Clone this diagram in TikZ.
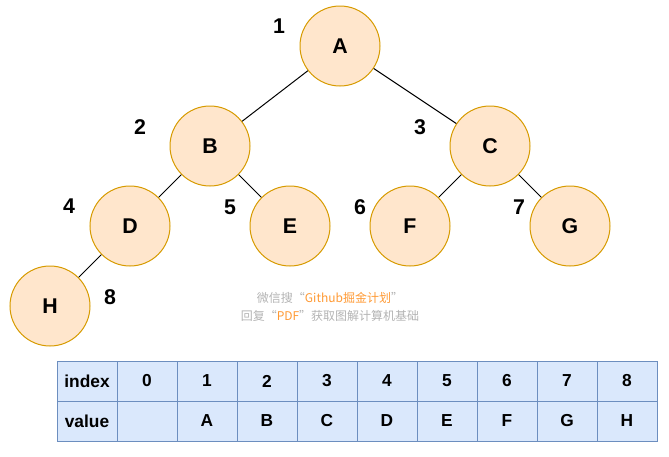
\documentclass[tikz,border=0pt]{standalone}
\usepackage{fontspec}
\setmainfont{Liberation Sans}
\newfontfamily\cjk{Noto Sans CJK SC}
\usetikzlibrary{positioning}
\definecolor{nodefill}{HTML}{FFE6CC}
\definecolor{nodeline}{HTML}{D79B00}
\definecolor{cellfill}{HTML}{DAE8FC}
\definecolor{cellline}{HTML}{6C8EBF}
\definecolor{markgray}{HTML}{B3B3B3}
\definecolor{markorange}{HTML}{FF9933}
\tikzstyle{vertex}=[circle,fill=nodefill,draw=nodeline,line width=0.75pt,minimum size=60pt,inner sep=0pt,font=\fontsize{16}{19}\selectfont\bfseries]
\tikzstyle{heapindex}=[font=\fontsize{16}{19}\selectfont\bfseries,inner sep=0pt]
\tikzstyle{edge}=[draw,line width=0.75pt]
\tikzstyle{cell}=[rectangle,fill=cellfill,draw=cellline,line width=0.75pt,minimum width=45pt,minimum height=30pt,inner sep=0pt,font=\fontsize{13}{15}\selectfont\bfseries]
\tikzstyle{watermark}=[font=\fontsize{9}{11}\selectfont\cjk,text=markgray,inner sep=0pt]

\begin{document}
\begin{tikzpicture}[x=0.75pt,y=-0.75pt]
    \useasboundingbox (0,0) rectangle (669,457);

    % First we draw the vertices of the heap
    \foreach \pos/\name in {{(340,46)/A}, {(210,146)/B}, {(490,146)/C}, {(130,226)/D}, {(290,226)/E}, {(410,226)/F}, {(570,226)/G}, {(50,306)/H}}
        \node[vertex] (\name) at \pos {\name};

    % Index of each vertex
    \foreach \pos/\name/\label in {{(279,26)/n1/1}, {(140,127)/n2/2}, {(420,127)/n3/3}, {(69,206)/n4/4}, {(230,207)/n5/5}, {(360,207)/n6/6}, {(519,207)/n7/7}, {(110,297)/n8/8}}
        \node[heapindex] (\name) at \pos {\label};

    % Connect vertices with edges
    \foreach \source/\dest in {A/B, A/C, B/D, B/E, C/F, C/G, D/H}
        \path[edge] (\source) -- (\dest);

    % watermark
    \node[watermark] (mark1) at (330,298) {微信搜“\textcolor{markorange}{Github掘金计划}”};
    \node[watermark] (mark2) at (330,316) {回复“\textcolor{markorange}{PDF}”获取图解计算机基础};

    % array of the heap
    \node[cell] (idx) at (87,381) {index};
    \node[cell] (val) at (87,421) {value};
    \foreach \i/\v in {0/{}, 1/A, 2/B, 3/C, 4/D, 5/E, 6/F, 7/G, 8/H}
    {
        \node[cell] (idx\i) at (147+60*\i,381) {\i};
        \node[cell] (val\i) at (147+60*\i,421) {\v};
    }

\end{tikzpicture}
\end{document}
